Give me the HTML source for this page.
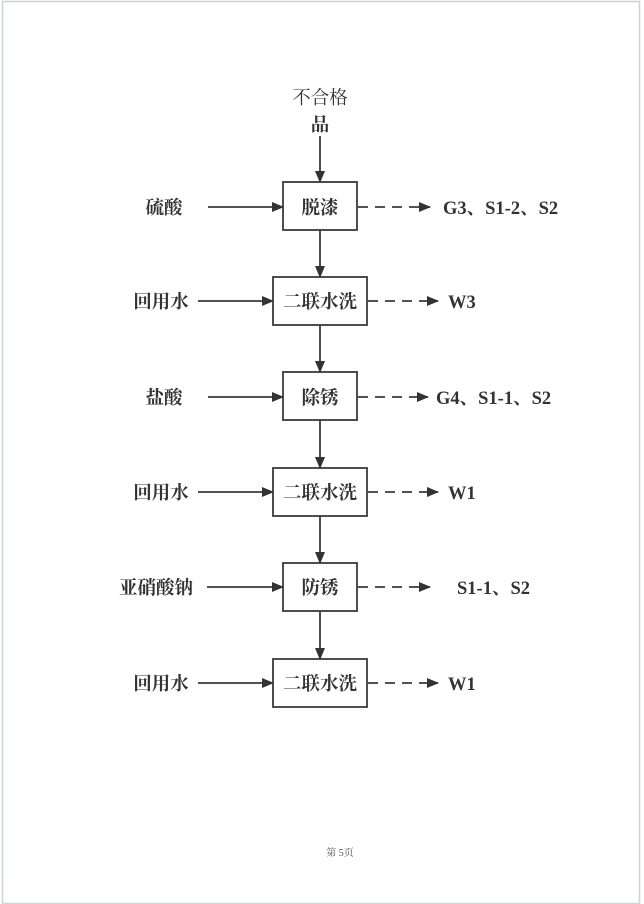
<!DOCTYPE html>
<html><head><meta charset="utf-8"><style>
html,body{margin:0;padding:0;background:#fff;}
svg{display:block}
text{font-family:"Liberation Serif","Noto Serif CJK SC",serif;font-weight:bold;fill:#333;font-size:18.5px}
</style></head><body>
<svg width="644" height="904" viewBox="0 0 644 904">
<defs>
<marker id="a" markerWidth="12" markerHeight="10" refX="11" refY="5" orient="auto" markerUnits="userSpaceOnUse">
<path d="M0,0 L12,5 L0,10 Z" fill="#333"/></marker>
</defs>
<rect x="2.5" y="1.5" width="637" height="902" fill="#fff" stroke="#ccd2d6" stroke-width="1.5"/>
<g stroke="#3a3a3a" stroke-width="1.8" fill="none">
<rect x="283" y="182" width="74" height="48"/>
<rect x="273" y="277" width="94" height="48"/>
<rect x="283" y="372" width="74" height="48"/>
<rect x="273" y="468" width="94" height="48"/>
<rect x="283" y="563" width="74" height="48"/>
<rect x="273" y="659" width="94" height="48"/>
<line x1="320" y1="136" x2="320" y2="182" marker-end="url(#a)"/>
<line x1="320" y1="230" x2="320" y2="277" marker-end="url(#a)"/>
<line x1="320" y1="325" x2="320" y2="372" marker-end="url(#a)"/>
<line x1="320" y1="420" x2="320" y2="468" marker-end="url(#a)"/>
<line x1="320" y1="516" x2="320" y2="563" marker-end="url(#a)"/>
<line x1="320" y1="611" x2="320" y2="659" marker-end="url(#a)"/>
<line x1="208" y1="207" x2="283" y2="207" marker-end="url(#a)"/>
<line x1="198" y1="301" x2="273" y2="301" marker-end="url(#a)"/>
<line x1="208" y1="397" x2="283" y2="397" marker-end="url(#a)"/>
<line x1="198" y1="492" x2="273" y2="492" marker-end="url(#a)"/>
<line x1="207" y1="587" x2="283" y2="587" marker-end="url(#a)"/>
<line x1="198" y1="683" x2="273" y2="683" marker-end="url(#a)"/>
<g stroke-dasharray="10,7">
<line x1="358" y1="207" x2="430" y2="207" marker-end="url(#a)"/>
<line x1="368" y1="301" x2="438" y2="301" marker-end="url(#a)"/>
<line x1="358" y1="397" x2="428" y2="397" marker-end="url(#a)"/>
<line x1="368" y1="492" x2="438" y2="492" marker-end="url(#a)"/>
<line x1="358" y1="587" x2="430" y2="587" marker-end="url(#a)"/>
<line x1="368" y1="683" x2="438" y2="683" marker-end="url(#a)"/>
</g>
</g>
<text x="320" y="104" text-anchor="middle" style="font-weight:normal">不合格</text>
<text x="320" y="131" text-anchor="middle">品</text>
<g text-anchor="middle">
<text x="320" y="214">脱漆</text>
<text x="320" y="308">二联水洗</text>
<text x="320" y="404">除锈</text>
<text x="320" y="499">二联水洗</text>
<text x="320" y="594">防锈</text>
<text x="320" y="690">二联水洗</text>
<text x="164" y="214">硫酸</text>
<text x="161" y="308">回用水</text>
<text x="164" y="404">盐酸</text>
<text x="161" y="499">回用水</text>
<text x="156" y="594">亚硝酸钠</text>
<text x="161" y="690">回用水</text>
</g>
<text x="443" y="214">G3、S1-2、S2</text>
<text x="448" y="308">W3</text>
<text x="436" y="404">G4、S1-1、S2</text>
<text x="448" y="499">W1</text>
<text x="457" y="594">S1-1、S2</text>
<text x="448" y="690">W1</text>
<text x="340" y="856" text-anchor="middle" style="font-weight:normal;font-size:10px;fill:#555">第 5页</text>
</svg>
</body></html>
